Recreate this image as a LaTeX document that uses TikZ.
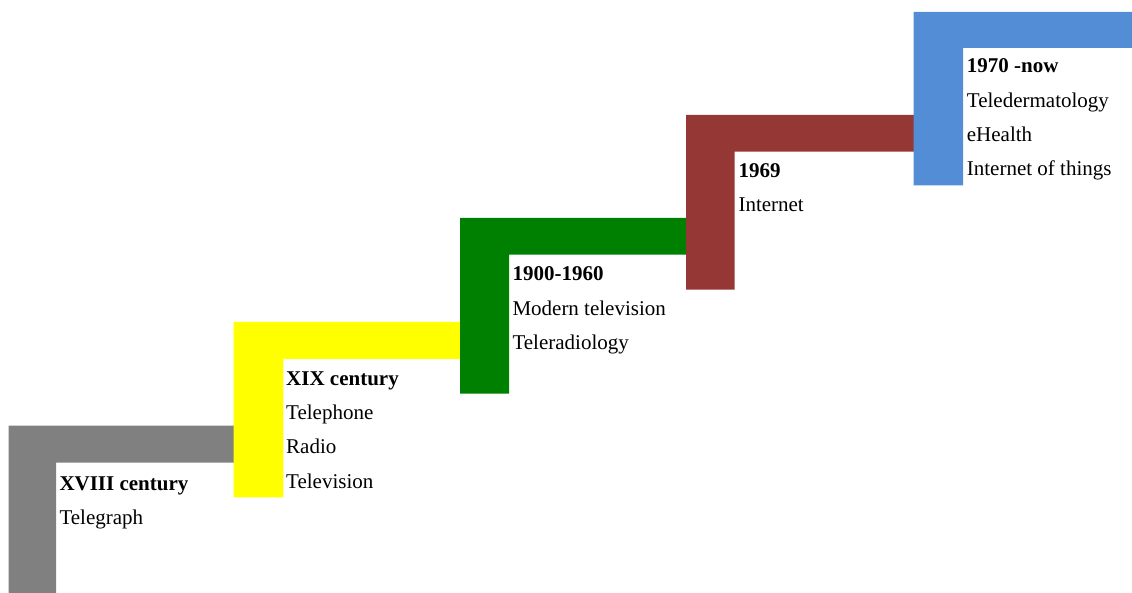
\documentclass[tikz,border=0pt]{standalone}
\usepackage{fontspec}
\setmainfont{Liberation Serif}
\definecolor{cgray}{HTML}{808080}
\definecolor{cyellow}{HTML}{FFFF00}
\definecolor{cgreen}{HTML}{008000}
\definecolor{cbrown}{HTML}{953735}
\definecolor{cblue}{HTML}{538DD5}
\tikzset{
  lbl/.style={anchor=base west, inner sep=0pt, font=\fontsize{21}{25}\selectfont},
  hd/.style={lbl, font=\fontsize{21}{25}\selectfont\bfseries},
}
\begin{document}
\begin{tikzpicture}[x=1pt,y=-1pt]
\useasboundingbox (0,0) rectangle (1132,593);
% L shapes: left, top, right, inner x, inner y, bottom
\fill[cgray]   (8.7,425.7) -- (244,425.7) -- (244,462.7) -- (56,462.7) -- (56,593) -- (8.7,593) -- cycle;
\fill[cyellow] (233.7,322) -- (470,322) -- (470,359) -- (283.3,359) -- (283.3,497.3) -- (233.7,497.3) -- cycle;
\fill[cgreen]  (460,218) -- (696,218) -- (696,254.7) -- (509,254.7) -- (509,393.7) -- (460,393.7) -- cycle;
\fill[cbrown]  (686,115) -- (924,115) -- (924,151.7) -- (734.7,151.7) -- (734.7,289.7) -- (686,289.7) -- cycle;
\fill[cblue]   (913.7,12) -- (1132,12) -- (1132,48) -- (963,48) -- (963,185.3) -- (913.7,185.3) -- cycle;
% texts
\node[hd]  (a1) at (59.3,490)   {XVIII century};
\node[lbl] (a2) at (59.3,524.4) {Telegraph};
\node[hd]  (b1) at (286,385)    {XIX century};
\node[lbl] (b2) at (286,419.4)  {Telephone};
\node[lbl] (b3) at (286,453.8)  {Radio};
\node[lbl] (b4) at (286,488.2)  {Television};
\node[hd]  (c1) at (512.3,281)   {1900-1960};
\node[lbl] (c2) at (512.3,315.4) {Modern television};
\node[lbl] (c3) at (512.3,349.8) {Teleradiology};
\node[hd]  (d1) at (738.3,177.3) {1969};
\node[lbl] (d2) at (738.3,211.7) {Internet};
\node[hd]  (e1) at (966.7,72.7)  {1970 -now};
\node[lbl] (e2) at (966.7,107.1) {Teledermatology};
\node[lbl] (e3) at (966.7,141.5) {eHealth};
\node[lbl] (e4) at (966.7,175.9) {Internet of things};
\end{tikzpicture}
\end{document}
